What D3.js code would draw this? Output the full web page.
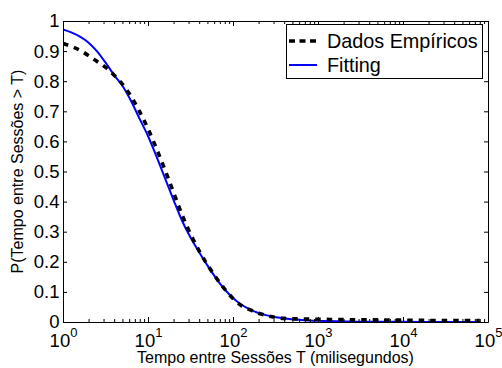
<!DOCTYPE html>
<html>
<head>
<meta charset="utf-8">
<script src="https://cdn.jsdelivr.net/npm/d3@7"></script>
<style>
  html, body { margin: 0; padding: 0; background: #fff; }
  svg { display: block; font-family: "Liberation Sans", Arial, sans-serif; }
</style>
</head>
<body>
<svg id="chart" width="502" height="368"></svg>
<script>
// ---- data ----
const timeValues = [1, 1.25, 1.6, 2, 2.5, 3.2, 4, 5, 6.3, 8, 10, 12.5, 16, 20, 25, 32, 40, 50, 63, 80,
  100, 125, 160, 200, 250, 320, 400, 630, 1000, 2000, 3200, 5000, 10000, 32000, 80000];
const empiricalValues = [0.925, 0.916, 0.902, 0.885, 0.866, 0.845, 0.820, 0.790, 0.750, 0.698,
  0.642, 0.578, 0.502, 0.430, 0.358, 0.289, 0.236, 0.190, 0.148, 0.109,
  0.078, 0.055, 0.040, 0.029, 0.021, 0.015, 0.012, 0.010, 0.009, 0.008, 0.007, 0.007, 0.006, 0.005, 0.005];
const fittingValues = [0.972, 0.962, 0.947, 0.928, 0.900, 0.860, 0.820, 0.785, 0.735, 0.674,
  0.618, 0.552, 0.475, 0.405, 0.338, 0.278, 0.232, 0.188, 0.146, 0.108,
  0.080, 0.058, 0.041, 0.030, 0.022, 0.016, 0.012, 0.007, 0.004, 0.002, 0.001, 0.001, 0.0005, 0.0003, 0.0002];
const seriesNames = ["Dados Empíricos", "Fitting"];
const xMajorTicks = [1, 10, 100, 1000, 10000, 100000];
const xTickExponents = ["0", "1", "2", "3", "4", "5"];
const yTicks = [0, 0.1, 0.2, 0.3, 0.4, 0.5, 0.6, 0.7, 0.8, 0.9, 1];
const yTickLabels = ["0", "0.1", "0.2", "0.3", "0.4", "0.5", "0.6", "0.7", "0.8", "0.9", "1"];
const xLabel = "Tempo entre Sessões T (milisegundos)";
const yLabel = "P(Tempo entre Sessões > T)";

// ---- layout ----
const L = 63, R = 488, T = 21, B = 322;
const svg = d3.select("#chart");
const x = d3.scaleLog().domain([1, 1e5]).range([L, R]);
const y = d3.scaleLinear().domain([0, 1]).range([B, T]);

const minorTicks = [];
for (let d = 1; d < 1e5; d *= 10) for (let k = 2; k <= 9; k++) minorTicks.push(d * k);

// clip
svg.append("clipPath").attr("id", "clip").append("rect")
  .attr("x", L).attr("y", T).attr("width", R - L).attr("height", B - T);

const line = d3.line().x(d => x(d[0])).y(d => y(d[1])).curve(d3.curveMonotoneX);
const empData = timeValues.map((t, i) => [t, empiricalValues[i]]);
const fitData = timeValues.map((t, i) => [t, fittingValues[i]]);

const g = svg.append("g").attr("clip-path", "url(#clip)");
g.append("path").datum(fitData).attr("d", line)
  .attr("fill", "none").attr("stroke", "#0000ff").attr("stroke-width", 2);
g.append("path").datum(empData).attr("d", line)
  .attr("fill", "none").attr("stroke", "#000").attr("stroke-width", 3.6)
  .attr("stroke-dasharray", "5.5,6");

// axes
function styleAxis(sel) {
  sel.selectAll("path.domain").attr("stroke", "#000").attr("stroke-width", 1);
  sel.selectAll(".tick line").attr("stroke", "#000").attr("stroke-width", 1);
}
const FONT = "Liberation Sans, Arial, sans-serif";
// bottom major with labels
const xb = svg.append("g").attr("transform", `translate(0,${B})`)
  .call(d3.axisBottom(x).tickValues(xMajorTicks).tickSize(-5).tickSizeOuter(0).tickPadding(11.5).tickFormat(() => ""));
xb.selectAll(".tick text").each(function(d, i) {
  const t = d3.select(this).attr("font-size", 18.5).attr("fill", "#000")
    .attr("font-family", FONT).attr("dy", "0.71em");
  t.text("10");
  t.append("tspan").attr("font-size", 13).attr("dy", -10).text(xTickExponents[i]);
});
styleAxis(xb);
const xbm = svg.append("g").attr("transform", `translate(0,${B})`)
  .call(d3.axisBottom(x).tickValues(minorTicks).tickSize(-3).tickSizeOuter(0).tickFormat(""));
styleAxis(xbm);
// top
const xt = svg.append("g").attr("transform", `translate(0,${T})`)
  .call(d3.axisTop(x).tickValues(xMajorTicks).tickSize(-5).tickSizeOuter(0).tickFormat(""));
styleAxis(xt);
const xtm = svg.append("g").attr("transform", `translate(0,${T})`)
  .call(d3.axisTop(x).tickValues(minorTicks).tickSize(-3).tickSizeOuter(0).tickFormat(""));
styleAxis(xtm);
// left
const yl = svg.append("g").attr("transform", `translate(${L},0)`)
  .call(d3.axisLeft(y).tickValues(yTicks).tickSize(-4).tickSizeOuter(0).tickPadding(3.5)
    .tickFormat((d, i) => yTickLabels[i]));
yl.selectAll(".tick text").attr("font-size", 18.5).attr("fill", "#000").attr("font-family", FONT);
styleAxis(yl);
// right
const yr = svg.append("g").attr("transform", `translate(${R},0)`)
  .call(d3.axisRight(y).tickValues(yTicks).tickSize(-4).tickSizeOuter(0).tickFormat(""));
styleAxis(yr);

// axis labels
svg.append("text").attr("x", (L + R) / 2).attr("y", 363).attr("text-anchor", "middle")
  .attr("font-size", 16).attr("fill", "#000").text(xLabel);
svg.append("text").attr("transform", `translate(23,${(T + B) / 2}) rotate(-90)`)
  .attr("text-anchor", "middle").attr("font-size", 16).attr("fill", "#000").text(yLabel);

// legend
const lg = svg.append("g");
lg.append("rect").attr("x", 286.5).attr("y", 24.5).attr("width", 196).attr("height", 54)
  .attr("fill", "#fff").attr("stroke", "#000").attr("stroke-width", 1);
const legendRows = [
  { name: seriesNames[0], color: "#000", width: 3.6, dash: "6,4.5", ly: 41, ty: 47.5 },
  { name: seriesNames[1], color: "#0000ff", width: 2, dash: null, ly: 65, ty: 71.5 }
];
legendRows.forEach(r => {
  lg.append("line").attr("x1", 289).attr("x2", 317).attr("y1", r.ly).attr("y2", r.ly)
    .attr("stroke", r.color).attr("stroke-width", r.width).attr("stroke-dasharray", r.dash);
  lg.append("text").attr("x", 327).attr("y", r.ty).attr("font-size", 19.8).attr("fill", "#000").text(r.name);
});
</script>
</body>
</html>
